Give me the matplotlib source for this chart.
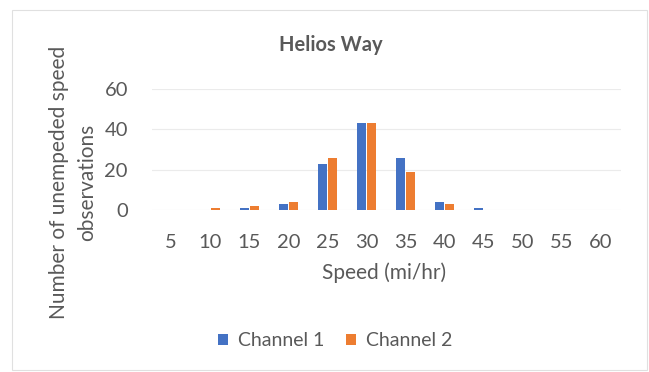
import matplotlib.pyplot as plt
import numpy as np

speeds = ["5", "10", "15", "20", "25", "30", "35", "40", "45", "50", "55", "60"]
channel_1 = [0, 0, 1, 3, 23, 43, 26, 4, 1, 0, 0, 0]
channel_2 = [0, 1, 2, 4, 26, 43, 19, 3, 0, 0, 0, 0]

plt.rcParams["font.family"] = ["Lato", "DejaVu Sans"]
text_color = "#595959"

fig = plt.figure(figsize=(6.49, 3.72), dpi=100)
ax = fig.add_axes([151.5 / 649, 1 - 210 / 372, 469 / 649, 121 / 372])

x = np.arange(len(speeds))
w = 0.23
ax.bar(x - 0.125, channel_1, width=w, color="#4472C4", label="Channel 1")
ax.bar(x + 0.125, channel_2, width=w, color="#ED7D31", label="Channel 2")

ax.set_xlim(-0.5, len(speeds) - 0.5)
ax.set_ylim(0, 60)
ax.set_yticks([0, 20, 40, 60])
ax.set_xticks(x)
ax.set_xticklabels(speeds)
ax.tick_params(axis="both", length=0, labelsize=14.5, labelcolor=text_color)
ax.tick_params(axis="x", pad=17)
ax.tick_params(axis="y", pad=17)
ax.grid(axis="y", color="#ebebeb", linewidth=0.8)
ax.set_axisbelow(True)
for s in ax.spines.values():
    s.set_visible(False)

fig.text(331 / 649, 1 - 45 / 372, "Helios Way", ha="center", va="center",
         fontsize=14.5, fontweight="bold", color=text_color)
fig.text(59 / 649, 1 - 182 / 372, "Number of unempeded speed", rotation=90,
         ha="center", va="center", fontsize=15, color=text_color)
fig.text(87 / 649, 1 - 182 / 372, "observations", rotation=90,
         ha="center", va="center", fontsize=15, color=text_color)
fig.text(384 / 649, 1 - 273 / 372, "Speed (mi/hr)", ha="center", va="center",
         fontsize=15, color=text_color)

fig.legend(loc="center", bbox_to_anchor=(335 / 649, 1 - 341 / 372), ncol=2,
           frameon=False, fontsize=14, labelcolor=text_color,
           handlelength=0.55, handleheight=0.55, columnspacing=1.1, handletextpad=0.5)

fig.patches.append(plt.Rectangle((12 / 649, 2 / 372), 635 / 649, 1 - 12 / 372,
                                 transform=fig.transFigure, fill=False,
                                 edgecolor="#e0e0e0", linewidth=0.8))

fig.savefig("out.png", dpi=100)
